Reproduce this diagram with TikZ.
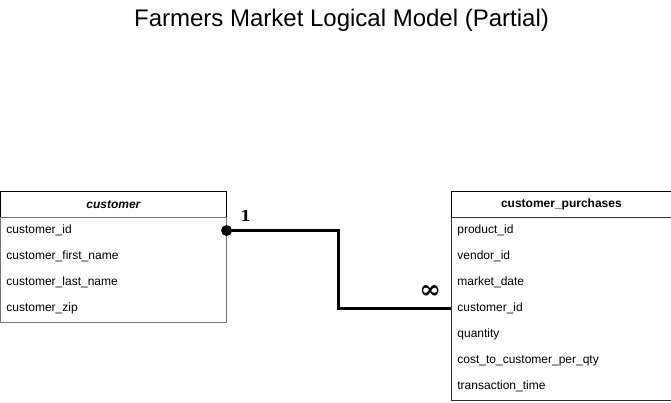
\documentclass[tikz,border=0pt]{standalone}
\usepackage{fontspec}
\setmainfont{Liberation Sans}
\newfontfamily\cardfont{DejaVu Serif}
\usetikzlibrary{calc}
\usetikzlibrary{fit}
\usetikzlibrary{matrix}
\usetikzlibrary{positioning}

\tikzset{
  table/.style={matrix of nodes,row sep=0pt,inner sep=0pt,anchor=north west,
    nodes={minimum height=26pt,inner xsep=6pt,inner ysep=0pt,align=left,
      font=\fontsize{12}{14}\selectfont}},
  header/.style={draw=black,fill=white,align=center,font=\fontsize{12}{14}\selectfont\bfseries},
  rows/.style={draw=black!55,inner sep=0pt},
  card/.style={font=\cardfont\fontsize{15}{15}\selectfont\bfseries}
}

\begin{document}
\begin{tikzpicture}[x=1pt,y=-1pt]

  \useasboundingbox (0,0) rectangle (671,402);

  \node [font=\fontsize{24}{28}\selectfont] (title) at (341.5,20) {Farmers Market Logical Model (Partial)};

  \matrix (cust) [table,nodes={text width=214pt}] at (0,191) {
    |[header,font=\fontsize{12}{14}\selectfont\bfseries\itshape](cust_head)| customer \\
    |(cust_id)| customer\_id \\
    |(cust_first)| customer\_first\_name \\
    |(cust_last)| customer\_last\_name \\
    |(cust_zip)| customer\_zip \\
  };

  \matrix (cp) [table,nodes={text width=208pt}] at (451,191) {
    |[header](cp_head)| customer\_purchases \\
    |(cp_prod)| product\_id \\
    |(cp_vendor)| vendor\_id \\
    |(cp_date)| market\_date \\
    |(cp_cid)| customer\_id \\
    |(cp_qty)| quantity \\
    |(cp_cost)| cost\_to\_customer\_per\_qty \\
    |(cp_time)| transaction\_time \\
  };

  \node [rows,fit=(cust_id) (cust_zip)] (cust_rows) {};
  \node [rows,draw=black!80,fit=(cp_prod) (cp_time)] (cp_rows) {};

  \draw [line width=2.8pt]
    (cust_id.east) -- ++(112,0) |- (cp_cid.west);
  \fill (cust_id.east) circle (5.5pt);

  \node [card] (one) at ($(cust_id.east)+(19,-15)$) {1};
  \node [card,font=\cardfont\fontsize{26}{26}\selectfont\bfseries] (many) at ($(cp_cid.west)+(-21,-17)$) {∞};

\end{tikzpicture}
\end{document}
